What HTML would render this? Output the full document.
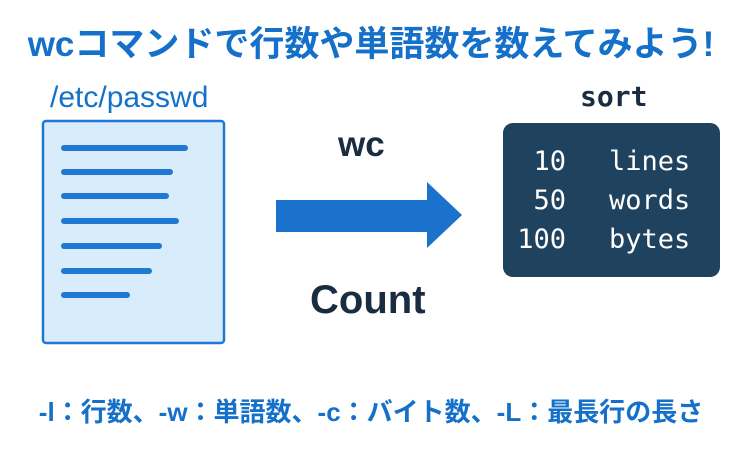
<!DOCTYPE html>
<html><head><meta charset="utf-8"><style>
body{margin:0;width:742px;height:452px;background:#fff;position:relative;overflow:hidden;font-family:"Liberation Sans","Noto Sans CJK JP",sans-serif}
.t{position:absolute;white-space:nowrap}
.m{font-family:'DejaVu Sans Mono',monospace;color:#fff;font-size:27px;line-height:39px;position:absolute;white-space:pre}
</style></head><body>
<div class="t" style="left:0;width:742px;text-align:center;top:16px;font-size:35px;font-weight:bold;color:#1470c8">wcコマンドで行数や単語数を数えてみよう!</div>
<div class="t" style="left:50px;top:81px;font-size:30px;color:#1470c8">/etc/passwd</div>
<div class="t" style="left:580px;top:80px;font-size:28px;font-weight:bold;color:#1a2d40;font-family:'DejaVu Sans Mono',monospace">sort</div>
<div class="t" style="left:338px;top:125px;font-size:35px;font-weight:bold;color:#1a2d40">wc</div>
<div class="t" style="left:310px;top:278px;font-size:40px;font-weight:bold;color:#1a2d40">Count</div>
<svg width="742" height="452" style="position:absolute;left:0;top:0">
<rect x="43" y="121" width="181" height="222" rx="3" fill="#d9ecfc" stroke="#1f78d1" stroke-width="2.5"/>
<g stroke="#1f78d1" stroke-width="6" stroke-linecap="round">
<line x1="64" y1="148" x2="185" y2="148"/><line x1="64" y1="172" x2="170" y2="172"/>
<line x1="64" y1="196" x2="166" y2="196"/><line x1="64" y1="221" x2="176" y2="221"/>
<line x1="64" y1="246" x2="159" y2="246"/><line x1="64" y1="271" x2="149" y2="271"/>
<line x1="64" y1="295" x2="127" y2="295"/></g>
<polygon points="276,200 427,200 427,182 462,215 427,248 427,232 276,232" fill="#1a72cc"/>
<rect x="503" y="123" width="217" height="154" rx="10" fill="#1f425f"/>
</svg>
<div class="m" style="right:176px;top:142px;text-align:right">10
50
100</div>
<div class="m" style="left:609px;top:142px">lines
words
bytes</div>
<div class="t" style="left:0;width:742px;text-align:center;top:392px;font-size:26px;font-weight:bold;color:#1470c8">-l：行数、-w：単語数、-c：バイト数、-L：最長行の長さ</div>
</body></html>
